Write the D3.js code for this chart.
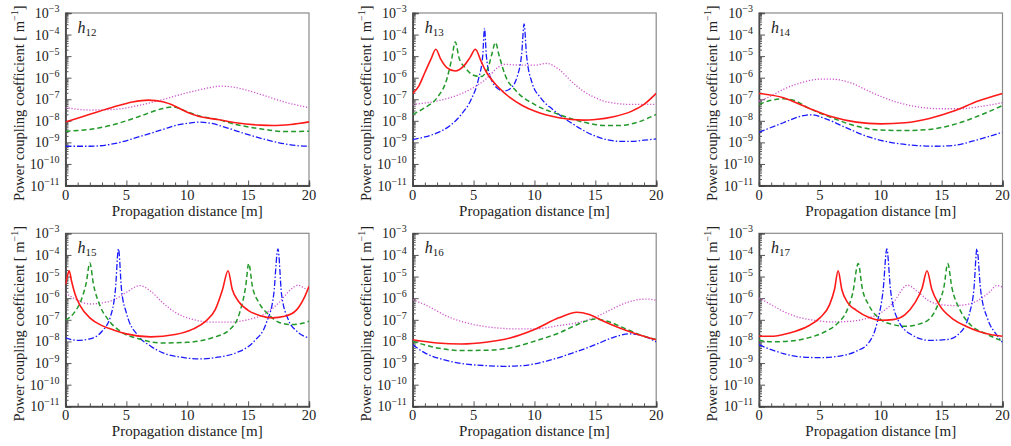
<!DOCTYPE html>
<html><head><meta charset="utf-8">
<script src="https://cdn.jsdelivr.net/npm/d3@7"></script>
<style>
body{margin:0;background:#fff}svg{display:block}
svg text{font-family:"Liberation Serif","Times New Roman",Times,"DejaVu Serif",serif;}
</style>
</head><body>
<svg id="c" width="1011" height="446"></svg>
<script>
// ---- tick labels ----
const xTicks = [0, 5, 10, 15, 20];
const yExponents = [-3, -4, -5, -6, -7, -8, -9, -10, -11];
const panelLabels = ["12", "13", "14", "15", "16", "17"];

// ---- data: [propagation distance (m), log10 of coupling coefficient (1/m)] ----
const h12_red = [[0,-8.05],[2,-7.70],[4,-7.35],[5.5,-7.13],[6.8,-7.04],[8,-7.12],[9,-7.32],[10,-7.60],[11,-7.80],[12.5,-7.94],[14,-8.09],[16,-8.20],[17,-8.22],[18.5,-8.17],[20,-8.05]];
const h12_green = [[0,-8.48],[2,-8.40],[4,-8.17],[6,-7.81],[8,-7.43],[8.8,-7.36],[10,-7.58],[11,-7.78],[12.5,-7.94],[14,-8.17],[16,-8.37],[18,-8.50],[20,-8.48]];
const h12_blue = [[0,-9.18],[2,-9.18],[4,-9.06],[6,-8.75],[8,-8.40],[9,-8.22],[10,-8.12],[11,-8.06],[12,-8.12],[13,-8.28],[15,-8.64],[17,-8.95],[19,-9.15],[20,-9.18]];
const h12_magenta = [[0,-7.39],[2,-7.50],[4,-7.47],[6,-7.29],[8,-7.01],[10,-6.70],[12,-6.45],[12.8,-6.39],[14,-6.46],[16,-6.77],[18,-7.13],[20,-7.39]];

const h13_red = [[0,-6.73],[0.5,-6.39],[1,-5.76],[1.5,-5.14],[1.9,-4.68],[2.3,-5.14],[2.8,-5.53],[3.5,-5.69],[4.2,-5.45],[4.7,-5.07],[5.15,-4.68],[5.6,-5.22],[6,-5.69],[7,-6.42],[8,-6.93],[9,-7.29],[10,-7.55],[12,-7.86],[14,-7.97],[15,-7.94],[16.5,-7.81],[18,-7.55],[19,-7.24],[20,-6.73]];
const h13_green = [[0,-7.70],[1,-7.39],[2,-6.93],[2.8,-6.07],[3.2,-5.14],[3.5,-4.34],[3.8,-5.07],[4.3,-5.53],[5,-5.89],[5.6,-5.95],[6.2,-5.53],[6.5,-4.91],[6.8,-4.37],[7.1,-4.98],[7.6,-5.89],[8.5,-6.62],[10,-7.24],[12,-7.70],[14,-8.06],[16,-8.22],[17,-8.22],[18.5,-8.06],[20,-7.70]];
const h13_blue = [[0,-8.87],[1,-8.75],[2,-8.56],[3,-8.25],[4,-7.70],[4.8,-7.01],[5.4,-6.07],[5.75,-4.99],[5.9,-3.71],[6.05,-4.99],[6.4,-6.00],[7,-6.51],[7.5,-6.62],[8,-6.51],[8.6,-5.92],[8.95,-4.90],[9.15,-3.51],[9.35,-4.95],[9.8,-6.23],[10.5,-6.93],[11.5,-7.47],[13,-8.09],[15,-8.71],[17,-8.95],[18,-8.95],[19,-8.90],[20,-8.84]];
const h13_magenta = [[0,-7.24],[2,-7.08],[4,-6.74],[5,-6.46],[6,-6.07],[7,-5.53],[7.5,-5.38],[8.5,-5.41],[10,-5.42],[11,-5.34],[12,-5.61],[13,-6.15],[14,-6.62],[15,-6.93],[16,-7.13],[18,-7.24],[20,-7.24]];

const h14_red = [[0,-6.73],[2,-6.93],[4,-7.39],[6,-7.81],[8,-8.06],[10,-8.14],[12,-8.09],[14,-7.89],[16,-7.55],[18,-7.08],[20,-6.73]];
const h14_green = [[0,-7.24],[1,-7.05],[2,-6.98],[3,-7.08],[4,-7.39],[6,-7.86],[8,-8.25],[10,-8.43],[12,-8.45],[14,-8.40],[16,-8.17],[18,-7.78],[20,-7.29]];
const h14_blue = [[0,-8.53],[2,-8.09],[3.5,-7.78],[4.3,-7.72],[5.5,-7.91],[7,-8.28],[9,-8.75],[11,-9.02],[13,-9.15],[14.5,-9.18],[16,-9.14],[18,-8.87],[20,-8.53]];
const h14_magenta = [[0,-7.08],[1,-6.85],[2,-6.54],[3.5,-6.23],[5,-6.07],[6,-6.07],[7.5,-6.23],[9,-6.62],[11,-7.08],[13,-7.35],[15,-7.44],[16.5,-7.44],[18,-7.35],[20,-7.16]];

const h15_red = [[0,-5.37],[0.15,-4.99],[0.3,-4.73],[0.5,-5.22],[0.8,-5.84],[1.2,-6.34],[2,-6.91],[3,-7.27],[4,-7.48],[5,-7.65],[7,-7.79],[9,-7.68],[10.5,-7.42],[11.5,-7.07],[12.3,-6.53],[12.9,-5.60],[13.35,-4.73],[13.7,-5.60],[14.2,-6.14],[15,-6.56],[16,-6.81],[17,-6.91],[18,-6.84],[19,-6.53],[19.6,-5.99],[20,-5.45]];
const h15_green = [[0,-7.02],[0.7,-6.68],[1.3,-6.07],[1.7,-5.30],[2.0,-4.37],[2.3,-5.37],[2.8,-6.30],[3.5,-6.99],[4.5,-7.53],[6,-7.88],[8,-8.07],[10,-8.04],[12,-7.84],[13.5,-7.45],[14.3,-6.68],[14.8,-5.45],[15.05,-4.40],[15.35,-5.45],[15.9,-6.22],[16.7,-6.76],[17.5,-7.11],[18.5,-7.22],[19.3,-7.18],[20,-7.07]];
const h15_blue = [[0,-7.84],[1,-7.95],[2,-7.88],[3,-7.53],[3.7,-6.84],[4.1,-5.60],[4.35,-3.72],[4.6,-5.60],[5,-6.68],[6,-7.76],[7,-8.22],[8,-8.53],[9.5,-8.73],[11,-8.81],[12.5,-8.73],[14,-8.53],[15.5,-7.99],[16.5,-7.14],[17.1,-5.84],[17.45,-3.72],[17.75,-5.84],[18.3,-6.99],[19,-7.53],[20,-7.84]];
const h15_magenta = [[0,-5.76],[1,-6.10],[2,-6.27],[3,-6.22],[4,-6.07],[5,-5.73],[6.1,-5.42],[7,-5.68],[8,-6.22],[9,-6.65],[10.5,-6.99],[12,-7.11],[13.5,-7.11],[15,-6.99],[16.5,-6.68],[17.5,-6.22],[18.5,-5.60],[19.1,-5.40],[19.6,-5.53],[20,-5.68]];

const h16_red = [[0,-7.92],[2,-8.07],[4,-8.12],[6,-8.04],[8,-7.84],[10,-7.45],[12,-6.91],[13.5,-6.65],[14.5,-6.76],[15.5,-7.02],[17,-7.38],[18.5,-7.68],[20,-7.92]];
const h16_green = [[0,-7.99],[2,-8.30],[4,-8.42],[6,-8.41],[8,-8.30],[10,-7.99],[12,-7.61],[14,-7.11],[15,-6.96],[16,-7.07],[17.5,-7.42],[19,-7.76],[20,-7.92]];
const h16_blue = [[0,-8.15],[1,-8.53],[2.5,-8.84],[4,-9.02],[6,-9.12],[7.5,-9.15],[9,-9.12],[11,-8.91],[13,-8.56],[15,-8.15],[16.5,-7.81],[17.8,-7.65],[19,-7.76],[20,-8.02]];
const h16_magenta = [[0,-6.07],[1,-6.30],[3,-6.88],[5,-7.22],[7,-7.38],[8.5,-7.42],[10,-7.42],[12,-7.27],[14,-7.07],[15,-6.88],[16,-6.61],[17.5,-6.22],[18.5,-6.07],[19.3,-6.04],[20,-6.10]];

const h17_red = [[0,-7.76],[1,-7.76],[2,-7.68],[3,-7.53],[4,-7.30],[5,-6.91],[5.8,-6.30],[6.2,-5.60],[6.5,-4.73],[6.8,-5.60],[7.3,-6.22],[8,-6.56],[9,-6.88],[10,-7.02],[11,-6.99],[12,-6.76],[12.8,-6.22],[13.4,-5.53],[13.8,-4.73],[14.2,-5.60],[14.8,-6.30],[16,-6.99],[17,-7.30],[18,-7.53],[19,-7.68],[20,-7.76]];
const h17_green = [[0,-7.95],[1,-8.02],[2.5,-7.99],[4,-7.84],[5.5,-7.53],[6.5,-7.14],[7.2,-6.60],[7.7,-5.76],[8.15,-4.40],[8.5,-5.60],[9,-6.30],[10,-6.99],[11,-7.22],[12,-7.30],[13,-7.22],[14,-6.96],[14.7,-6.30],[15.2,-5.45],[15.5,-4.40],[15.85,-5.53],[16.5,-6.53],[17.5,-7.30],[18.5,-7.61],[20,-7.99]];
const h17_blue = [[0,-8.15],[1,-8.38],[2,-8.56],[3.5,-8.72],[5,-8.75],[6.5,-8.69],[8,-8.45],[9,-8.07],[9.7,-7.14],[10.2,-5.60],[10.5,-3.72],[10.8,-5.60],[11.4,-6.99],[12.5,-7.68],[14,-7.95],[15.5,-7.91],[16.5,-7.61],[17.3,-6.68],[17.65,-5.60],[17.9,-3.72],[18.2,-5.60],[18.8,-6.99],[19.5,-7.68],[20,-8.04]];
const h17_magenta = [[0,-5.99],[1,-6.30],[2,-6.61],[3,-6.84],[4.5,-7.02],[6,-7.10],[7.5,-7.07],[9,-6.91],[10,-6.68],[11,-6.22],[12.2,-5.40],[13,-5.68],[14,-6.14],[15,-6.30],[16,-6.34],[17,-6.30],[18,-6.10],[19,-5.68],[19.5,-5.42],[20,-5.48]];

const panelSeries = [
  [h12_magenta, h12_blue, h12_green, h12_red],
  [h13_magenta, h13_blue, h13_green, h13_red],
  [h14_magenta, h14_blue, h14_green, h14_red],
  [h15_magenta, h15_blue, h15_green, h15_red],
  [h16_magenta, h16_blue, h16_green, h16_red],
  [h17_magenta, h17_blue, h17_green, h17_red]
];

// ---- layout & styles ----
const seriesStyles = [
  {color: "#cc55cc", width: 1.3, dash: "1.2,1.8"},
  {color: "#1a1aff", width: 1.3, dash: "6,2,1.5,2"},
  {color: "#22992a", width: 1.5, dash: "5,3"},
  {color: "#ff1a1a", width: 1.6, dash: null}
];
const lefts = [65.5, 412.7, 759];
const widthP = 243.5;
const rows = [{top: 13, bottom: 185.5}, {top: 233.3, bottom: 406.3}];

const svg = d3.select("#c");
const defs = svg.append("defs");

panelSeries.forEach((series, i) => {
  const L = lefts[i % 3], R = L + widthP;
  const T = rows[Math.floor(i / 3)].top, B = rows[Math.floor(i / 3)].bottom;
  const x = d3.scaleLinear().domain([0, 20]).range([L, R]);
  const y = d3.scaleLog().domain([1e-11, 1e-3]).range([B, T]);
  const g = svg.append("g");

  defs.append("clipPath").attr("id", "clip" + i)
    .append("rect").attr("x", L).attr("y", T).attr("width", R - L).attr("height", B - T);

  // frame
  g.append("rect").attr("x", L).attr("y", T).attr("width", R - L).attr("height", B - T)
    .attr("fill", "none").attr("stroke", "#8a8a8a").attr("stroke-width", 1.2);

  // y axis ticks
  const majors = yExponents.map(e => Math.pow(10, e));
  const minors = [];
  yExponents.slice(0, -1).forEach(e => { for (let k = 2; k <= 9; k++) minors.push(k * Math.pow(10, e - 1)); });
  const yAxis = d3.axisRight(y).tickValues(majors).tickSize(6).tickFormat("");
  const yMinor = d3.axisRight(y).tickValues(minors).tickSize(3).tickFormat("");
  [yAxis, yMinor].forEach(ax => {
    const a = g.append("g").attr("transform", `translate(${L},0)`).call(ax);
    a.select(".domain").attr("stroke", "#444").attr("stroke-width", 1.3);
    a.selectAll(".tick line").attr("stroke", "#555");
  });
  yExponents.forEach(e => {
    const t = g.append("text").attr("x", L - 6).attr("y", y(Math.pow(10, e)) + 5)
      .attr("text-anchor", "end").attr("font-size", 14).attr("fill", "#222");
    t.append("tspan").text("10");
    t.append("tspan").attr("dy", -6).attr("font-size", 10).text("\u2212" + (-e));
  });

  // x axis ticks
  const xMajor = d3.axisTop(x).tickValues(xTicks).tickSize(5).tickFormat("");
  const xMinor = d3.axisTop(x).tickValues(d3.range(1, 20).filter(v => v % 5 !== 0)).tickSize(3).tickFormat("");
  [xMajor, xMinor].forEach(ax => {
    const a = g.append("g").attr("transform", `translate(0,${B})`).call(ax);
    a.select(".domain").attr("stroke", "#444").attr("stroke-width", 1.3);
    a.selectAll(".tick line").attr("stroke", "#555");
  });
  xTicks.forEach(v => {
    g.append("text").attr("x", x(v)).attr("y", B + 14).attr("text-anchor", "middle")
      .attr("font-size", 14.5).attr("fill", "#222").text(v);
  });
  g.append("text").attr("x", (L + R) / 2).attr("y", B + 30).attr("text-anchor", "middle")
    .attr("font-size", 15).attr("fill", "#222").text("Propagation distance [m]");

  // y label
  const yl = g.append("text").attr("transform", `translate(${L - 42},${(T + B) / 2 + 4}) rotate(-90)`)
    .attr("text-anchor", "middle").attr("font-size", 14.5).attr("fill", "#222");
  yl.append("tspan").text("Power coupling coefficient [ m");
  yl.append("tspan").attr("dy", -6).attr("font-size", 10).text("\u22121");
  yl.append("tspan").attr("dy", 6).text("]");

  // panel label
  const pl = g.append("text").attr("x", L + 12).attr("y", T + 20)
    .attr("font-size", 16).attr("fill", "#222");
  pl.append("tspan").attr("font-style", "italic").text("h");
  pl.append("tspan").attr("dy", 3).attr("font-size", 11).text(panelLabels[i]);

  // curves
  const line = d3.line().x(d => x(d[0])).y(d => y(Math.pow(10, d[1]))).curve(d3.curveMonotoneX);
  const cg = g.append("g").attr("clip-path", `url(#clip${i})`);
  series.forEach((s, k) => {
    const st = seriesStyles[k];
    cg.append("path").datum(s).attr("d", line).attr("fill", "none")
      .attr("stroke", st.color).attr("stroke-width", st.width)
      .attr("stroke-dasharray", st.dash);
  });
});
</script>
</body></html>
